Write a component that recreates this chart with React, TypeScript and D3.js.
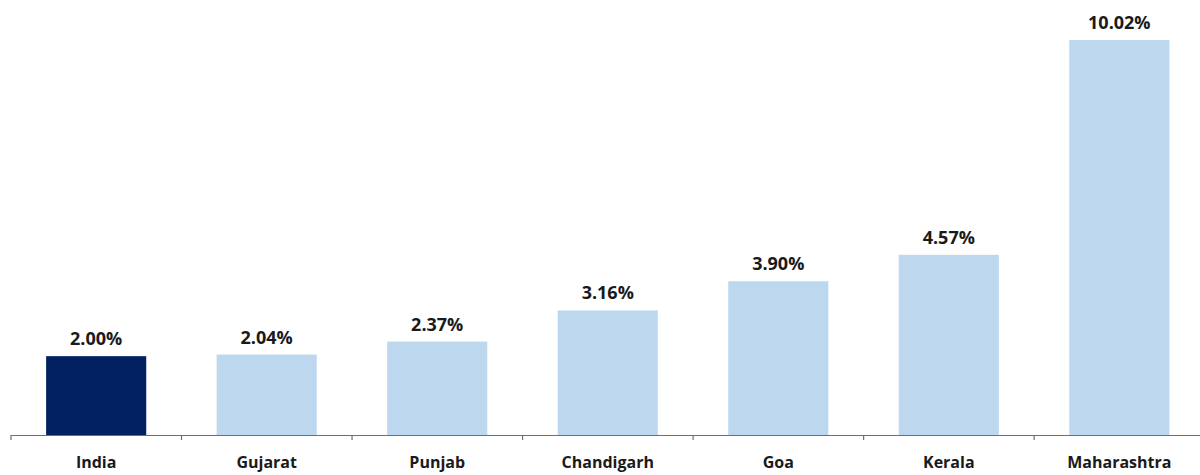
import React from 'react';
import * as d3 from 'd3';

const categories = ['India', 'Gujarat', 'Punjab', 'Chandigarh', 'Goa', 'Kerala', 'Maharashtra'];
const values = [2.0, 2.04, 2.37, 3.16, 3.9, 4.57, 10.02];
const highlight = ['India'];

const W = 1200;
const H = 475;

export default function App() {
  const baseY = 435;
  const x = d3.scaleBand<string>().domain(categories).range([11, 1204.5]).paddingInner(0.413).paddingOuter(0.206);
  const y = d3.scaleLinear().domain([0, 10.02]).range([baseY, 40]);
  const step = x.step();
  const ticks = d3.range(categories.length + 1).map(i => 11 + i * step);
  const font = '"Open Sans", Lato, sans-serif';

  return (
    <svg width={W} height={H} style={{ position: 'absolute', left: 0, top: 0, background: '#fff' }}>
      {categories.map((c, i) => (
        <rect
          key={c}
          x={x(c)}
          y={y(values[i])}
          width={x.bandwidth()}
          height={baseY - y(values[i])}
          fill={highlight.includes(c) ? '#002060' : '#BDD7EE'}
        />
      ))}
      <line x1={11} x2={W} y1={baseY + 0.5} y2={baseY + 0.5} stroke="#6f6f6f" strokeWidth={1.2} />
      {ticks.map((t, i) => (
        <line key={i} x1={t} x2={t} y1={baseY} y2={baseY + 5} stroke="#6f6f6f" strokeWidth={1.2} />
      ))}
      {categories.map((c, i) => (
        <text
          key={'v' + c}
          x={(x(c) ?? 0) + x.bandwidth() / 2}
          y={y(values[i]) - 11}
          textAnchor="middle"
          fontFamily={font}
          fontWeight="bold"
          fontSize={18}
          fill="#1a1a1a"
        >
          {values[i].toFixed(2) + '%'}
        </text>
      ))}
      {categories.map(c => (
        <text
          key={'c' + c}
          x={(x(c) ?? 0) + x.bandwidth() / 2}
          y={468}
          textAnchor="middle"
          fontFamily={font}
          fontWeight="bold"
          fontSize={16}
          fill="#1a1a1a"
        >
          {c}
        </text>
      ))}
    </svg>
  );
}
